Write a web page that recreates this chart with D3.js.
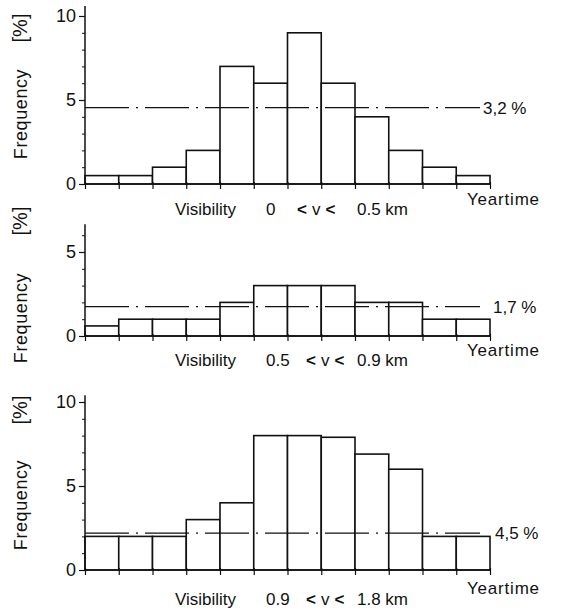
<!DOCTYPE html>
<html>
<head>
<meta charset="utf-8">
<script src="https://cdn.jsdelivr.net/npm/d3@7"></script>
<style>
  body { margin: 0; background: #fff; }
  svg text { font-family: "Liberation Sans", Arial, sans-serif; fill: #111; }
</style>
</head>
<body>
<div class="chart"></div>
<script>
'use strict';

// 12 bins over the year
const months = ['Jan', 'Feb', 'Mar', 'Apr', 'May', 'Jun', 'Jul', 'Aug', 'Sep', 'Oct', 'Nov', 'Dec'];

// frequency [%] per bin, one array per visibility class
const freqClass1 = [0.5, 0.5, 1, 2, 7, 6, 9, 6, 4, 2, 1, 0.5];
const freqClass2 = [0.6, 1, 1, 1, 2, 3, 3, 3, 2, 2, 1, 1];
const freqClass3 = [2, 2, 2, 3, 4, 8, 8, 7.9, 6.9, 6, 2, 2];

const lowerBounds = ['0', '0.5', '0.9'];
const upperBounds = ['0.5', '0.9', '1.8'];
const meanValues = [4.55, 1.75, 2.2];
const meanLabels = ['3,2 %', '1,7 %', '4,5 %'];
const yTickLabels = [[0, 5, 10], [0, 5], [0, 5, 10]];
const yTops = [10.6, 6.65, 10.4];

const FULL_WIDTH = 565;
const FULL_HEIGHT = 611;
const X0 = 85;
const X1 = 490;
const UNIT = 16.8;

// zero line of each panel, plus where its texts sit
const panels = [
  { base: 184, data: freqClass1, rangeX: 297, yearDy: 21, visDy: 31, pctY: 28, freqY: 114, labelX: 483 },
  { base: 336, data: freqClass2, rangeX: 306, yearDy: 20, visDy: 30, pctY: 221, freqY: 318, labelX: 493 },
  { base: 570, data: freqClass3, rangeX: 306, yearDy: 24, visDy: 35, pctY: 410, freqY: 505, labelX: 495 }
];

const svg = d3.select('.chart')
  .append('svg')
    .attr('width', FULL_WIDTH)
    .attr('height', FULL_HEIGHT);

const x = d3.scaleLinear()
  .domain([0, months.length])
  .range([X0, X1]);

panels.forEach((p, i) => {
  const top = yTops[i];
  const y = d3.scaleLinear()
    .domain([0, top])
    .range([p.base, p.base - top * UNIT]);

  const g = svg.append('g');

  // bars
  g.selectAll('.bar')
    .data(p.data)
    .enter()
    .append('rect')
    .attr('class', 'bar')
    .attr('x', (d, j) => x(j))
    .attr('y', (d) => y(d))
    .attr('width', x(1) - x(0))
    .attr('height', (d) => y(0) - y(d))
    .attr('fill', '#fff')
    .attr('stroke', '#111')
    .attr('stroke-width', 1.6);

  // x axis with a tick at every bin edge
  const xAxis = g.append('g')
    .attr('transform', 'translate(0,' + y(0) + ')')
    .call(d3.axisBottom(x)
      .tickValues(d3.range(months.length + 1))
      .tickSize(5)
      .tickFormat(''));
  xAxis.select('.domain')
    .attr('stroke', '#111')
    .attr('stroke-width', 1.7)
    .attr('d', 'M' + X0 + ',0H' + X1);
  xAxis.selectAll('.tick line')
    .attr('stroke', '#111')
    .attr('stroke-width', 1.2)
    .attr('y1', -2);

  // y axis: minor ticks each unit, major labelled ticks
  const minor = d3.range(0, Math.floor(top) + 1);
  const yAxisMinor = g.append('g')
    .attr('transform', 'translate(' + X0 + ',0)')
    .call(d3.axisLeft(y).tickValues(minor).tickSize(3).tickFormat(''));
  yAxisMinor.select('.domain')
    .attr('stroke', '#111')
    .attr('stroke-width', 1.5)
    .attr('d', 'M0,' + y(0) + 'V' + y(top));
  yAxisMinor.selectAll('.tick line').attr('stroke', '#111');

  const yAxisMajor = g.append('g')
    .attr('transform', 'translate(' + X0 + ',0)')
    .call(d3.axisLeft(y)
      .tickValues(yTickLabels[i])
      .tickFormat(d3.format('d'))
      .tickSize(6)
      .tickPadding(3));
  yAxisMajor.select('.domain').remove();
  yAxisMajor.selectAll('.tick line').attr('stroke', '#111').attr('stroke-width', 1.2);
  yAxisMajor.selectAll('.tick text')
    .attr('font-size', '18px')
    .attr('font-family', '"Liberation Sans", Arial, sans-serif')
    .attr('fill', '#111');

  // dash-dot mean line
  g.append('line')
    .attr('x1', X0)
    .attr('x2', 480)
    .attr('y1', y(meanValues[i]))
    .attr('y2', y(meanValues[i]))
    .attr('stroke', '#111')
    .attr('stroke-width', 1.3)
    .attr('stroke-dasharray', '44,7,2,7');

  g.append('text')
    .attr('x', p.labelX)
    .attr('y', y(meanValues[i]))
    .attr('dy', '0.35em')
    .attr('font-size', '17px')
    .text(meanLabels[i]);

  g.append('text')
    .attr('x', 467)
    .attr('y', p.base + p.yearDy)
    .attr('font-size', '17px')
    .attr('letter-spacing', '0.8px')
    .text('Yeartime');

  const vis = g.append('text')
    .attr('y', p.base + p.visDy)
    .attr('font-size', '17px');
  vis.append('tspan').attr('x', 175).text('Visibility');
  vis.append('tspan').attr('x', 266).text(lowerBounds[i]);
  vis.append('tspan').attr('x', p.rangeX).attr('font-weight', 'bold').text('<');
  vis.append('tspan').attr('dx', 5).text('v');
  vis.append('tspan').attr('dx', 5).attr('font-weight', 'bold').text('<');
  vis.append('tspan').attr('x', 357).text(upperBounds[i] + ' km');

  // y axis title
  g.append('text')
    .attr('transform', 'translate(27,' + p.pctY + ') rotate(-90)')
    .attr('text-anchor', 'middle')
    .attr('font-size', '20px')
    .text('[%]');
  g.append('text')
    .attr('transform', 'translate(27,' + p.freqY + ') rotate(-90)')
    .attr('text-anchor', 'middle')
    .attr('font-size', '18px')
    .attr('letter-spacing', '0.6px')
    .text('Frequency');
});
</script>
</body>
</html>
